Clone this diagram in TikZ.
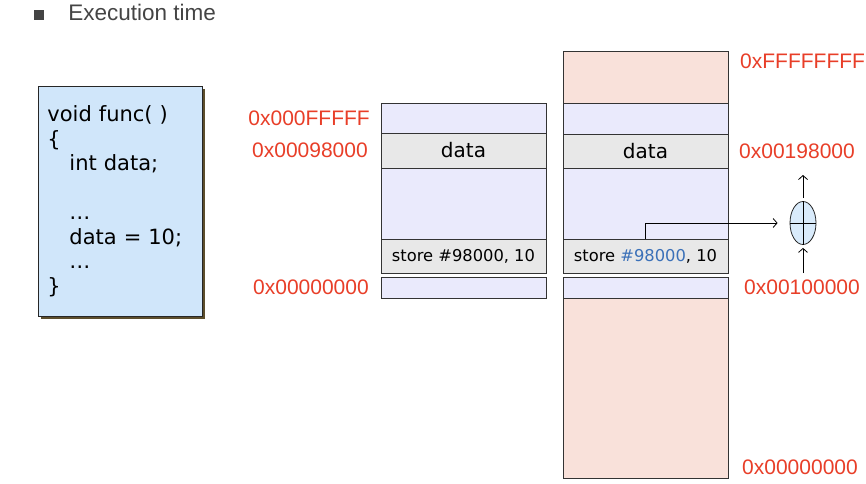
\documentclass[tikz,border=0pt]{standalone}
\usepackage{fontspec}
\setmainfont{DejaVu Sans}
\newfontfamily\addrfont{Liberation Sans}
\usetikzlibrary{arrows.meta}
\usetikzlibrary{positioning}
\usetikzlibrary{shapes.geometric}
\usetikzlibrary{shadows}

\definecolor{addrred}{RGB}{232,62,40}
\definecolor{rowlav}{RGB}{234,234,252}
\definecolor{rowgray}{RGB}{232,232,232}
\definecolor{rowpink}{RGB}{249,225,218}
\definecolor{codeblue}{RGB}{208,230,250}
\definecolor{shadowbrown}{RGB}{92,78,44}
\definecolor{hexblue}{RGB}{58,112,184}
\definecolor{titlegray}{RGB}{68,68,68}

\tikzset{
  memrow/.style={draw=black!80, line width=0.9pt, minimum width=165pt, inner sep=0pt, outer sep=0pt},
  lavrow/.style={memrow, fill=rowlav},
  grayrow/.style={memrow, fill=rowgray},
  pinkrow/.style={memrow, fill=rowpink},
  addr/.style={font=\addrfont\fontsize{21}{21}\selectfont, text=addrred, inner sep=0pt},
  >={Straight Barb[length=4pt, width=9pt]},
}

\begin{document}
\begin{tikzpicture}[x=1pt, y=-1pt]

                    \useasboundingbox (0,0) rectangle (866,483);

                    \node[fill=titlegray, minimum size=10pt, inner sep=0pt] (bullet) at (39,15) {};
                    \node[text=titlegray, font=\addrfont\fontsize{22.5}{22.5}\selectfont, inner sep=0pt, yshift=3pt] (title) [right = 24pt of bullet] {Execution time};

                    \node[draw=black!85, line width=0.9pt, fill=codeblue, anchor=north west,
                          minimum width=164pt, minimum height=230pt, text width=146pt, inner xsep=9pt,
                          align=left, font=\fontsize{21}{24.5}\selectfont,
                          drop shadow={shadow xshift=3pt, shadow yshift=-3pt, fill=shadowbrown, opacity=1}]
                          (code) at (38,86)
                          {void func( )\\ \{\\ \hspace*{22pt}int data;\\ ~\\ \hspace*{22pt}…\\ \hspace*{22pt}data = 10;\\ \hspace*{22pt}…\\ \}};

                    % physical memory
                    \node[lavrow, minimum height=30pt, anchor=north] (m_0) at (463.5,103) {};
                    \node[grayrow, minimum height=35pt, font=\fontsize{20}{20}\selectfont] (m_1) [below = 0pt of m_0] {data};
                    \node[lavrow, minimum height=71pt] (m_2) [below = 0pt of m_1] {};
                    \node[grayrow, minimum height=34pt, font=\fontsize{16.3}{16.3}\selectfont] (m_3) [below = 0pt of m_2] {store \#98000, 10};
                    \node[lavrow, minimum height=21pt] (m_4) [below = 4pt of m_3] {};

                    \node[addr] (a_0) [left = 11pt of m_0] {0x000FFFFF};
                    \node[addr] (a_1) [left = 13pt of m_1] {0x00098000};
                    \node[addr] (a_2) [left = 12pt of m_4] {0x00000000};

                    % relocated memory
                    \node[pinkrow, minimum height=52pt, anchor=north] (v_0) at (645.5,51) {};
                    \node[lavrow, minimum height=31pt] (v_1) [below = 0pt of v_0] {};
                    \node[grayrow, minimum height=34pt, font=\fontsize{20}{20}\selectfont] (v_2) [below = 0pt of v_1] {data};
                    \node[lavrow, minimum height=71pt] (v_3) [below = 0pt of v_2] {};
                    \node[grayrow, minimum height=34pt, font=\fontsize{16.3}{16.3}\selectfont] (v_4) [below = 0pt of v_3] {store \textcolor{hexblue}{\#98000}, 10};
                    \node[lavrow, minimum height=21pt] (v_5) [below = 4pt of v_4] {};
                    \node[pinkrow, minimum height=180pt] (v_6) [below = 0pt of v_5] {};

                    \node[addr, anchor=west] (b_0) at (740,61) {0xFFFFFFFF};
                    \node[addr] (b_1) [right = 11pt of v_2] {0x00198000};
                    \node[addr] (b_2) [right = 16pt of v_5] {0x00100000};
                    \node[addr, anchor=west] (b_3) at (742,467) {0x00000000};

                    % relocation adder
                    \node[ellipse, draw=black!85, fill=codeblue!80, line width=0.8pt,
                          minimum width=26pt, minimum height=43pt, inner sep=0pt] (adder) at (803,223) {};
                    \draw[line width=0.8pt] (adder.north) -- (adder.south)
                                            (adder.west) -- (adder.east);

                    \coordinate (up_end) at (803,175);
                    \coordinate (low_start) at (803,273);

                    \path[->, line width=0.8pt]
                    (v_4.north) edge[to path={|- (\tikztotarget)}, shorten >=12pt] (adder.west)
                    (adder.north) edge[shorten <=3pt] (up_end)
                    (low_start) edge[shorten >=3pt] (adder.south);

                \end{tikzpicture}
\end{document}
